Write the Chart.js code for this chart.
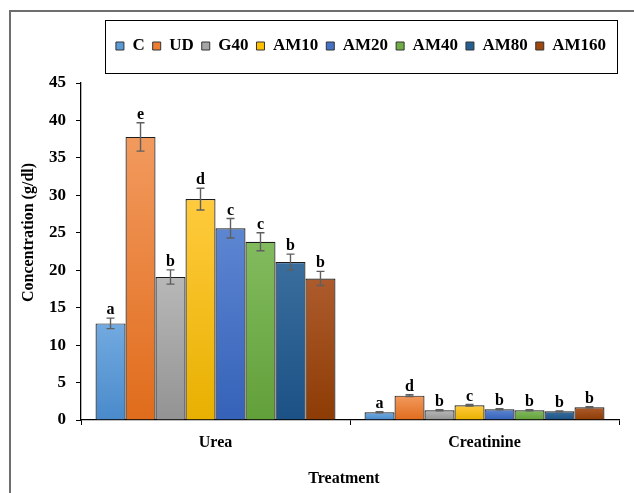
<!DOCTYPE html>
<html>
<head>
<meta charset="utf-8">
<title>Urea and creatinine concentration by treatment</title>
<script src="https://cdn.jsdelivr.net/npm/chart.js@4/dist/chart.umd.min.js"></script>
<style>
  html, body { margin: 0; padding: 0; background: #fff; overflow: hidden; }
  #wrap { position: relative; width: 634px; height: 493px; overflow: hidden; }
  #frame { position: absolute; left: 9px; top: 10px; width: 700px; height: 600px;
           border-left: 2px solid #6e6e6e; border-top: 2px solid #6e6e6e; }
  canvas { position: absolute; left: 0; top: 0; }
</style>
</head>
<body>
<div id="wrap">
  <div id="frame"></div>
  <canvas id="chart" width="634" height="493"></canvas>
</div>
<script>
// Categories on the x axis and treatment groups
const categories = ['Urea', 'Creatinine'];
const groups = ['C', 'UD', 'G40', 'AM10', 'AM20', 'AM40', 'AM80', 'AM160'];

// Mean concentrations (g/dl), standard errors and significance letters
const ureaMeans   = [12.9, 37.8, 19.1, 29.5, 25.6, 23.8, 21.1, 18.9];
const ureaErrors  = [0.7, 1.9, 0.95, 1.45, 1.3, 1.2, 1.05, 0.95];
const ureaLetters = ['a', 'e', 'b', 'd', 'c', 'c', 'b', 'b'];

const creatMeans   = [1.03, 3.25, 1.3, 1.96, 1.43, 1.3, 1.16, 1.7];
const creatErrors  = [0.08, 0.12, 0.06, 0.1, 0.08, 0.07, 0.06, 0.08];
const creatLetters = ['a', 'd', 'b', 'c', 'b', 'b', 'b', 'b'];

// Y axis ticks
const yTicks = [0, 5, 10, 15, 20, 25, 30, 35, 40, 45];

// Fill colours per group: [legend/base, gradient top, gradient bottom]
const palette = [
  ['#5b9bd5', '#72aae0', '#4a8acb'],
  ['#ed7d31', '#f29a5e', '#e06c1c'],
  ['#a5a5a5', '#b8b8b8', '#939393'],
  ['#ffc000', '#ffcb3d', '#e8b000'],
  ['#4472c4', '#5d86d2', '#3562b8'],
  ['#70ad47', '#82bb5e', '#62a03a'],
  ['#255e91', '#3a6e9e', '#1b5185'],
  ['#9e480e', '#ad5b2c', '#8d3c05']
];

const FONT = 'Liberation Serif';

function barFill(i) {
  return function (ctx) {
    const chart = ctx.chart;
    const yScale = chart.scales && chart.scales.y;
    if (ctx.type !== 'data' || !yScale || !chart.chartArea) return palette[i][0];
    const top = yScale.getPixelForValue(ctx.raw);
    const base = yScale.getPixelForValue(0);
    if (!isFinite(top) || !isFinite(base) || base - top < 1) return palette[i][0];
    const g = chart.ctx.createLinearGradient(0, top, 0, base);
    g.addColorStop(0, palette[i][1]);
    g.addColorStop(1, palette[i][2]);
    return g;
  };
}

const datasets = groups.map((g, i) => ({
  label: g,
  data: [ureaMeans[i], creatMeans[i]],
  backgroundColor: barFill(i),
  borderColor: '#1c1c1c',
  borderWidth: 1.2,
  borderSkipped: 'start',
  categoryPercentage: 0.892,
  barPercentage: 1.0
}));

const errorSets = [ureaErrors, creatErrors];
const letterSets = [ureaLetters, creatLetters];
const meanSets = [ureaMeans, creatMeans];

// Error bars and significance letters above each bar
const errorBarPlugin = {
  id: 'errorBars',
  afterDatasetsDraw(chart) {
    const c = chart.ctx;
    const y = chart.scales.y;
    c.save();
    for (let i = 0; i < groups.length; i++) {
      const meta = chart.getDatasetMeta(i);
      for (let k = 0; k < categories.length; k++) {
        const bar = meta.data[k];
        if (!bar) continue;
        const m = meanSets[k][i];
        const e = errorSets[k][i];
        const x = bar.x;
        const yt = y.getPixelForValue(m + e);
        const yb = y.getPixelForValue(m - e);
        c.strokeStyle = '#5f5f5f';
        c.lineWidth = 1.4;
        c.beginPath();
        c.moveTo(x, yt); c.lineTo(x, yb);
        c.moveTo(x - 4, yt); c.lineTo(x + 4, yt);
        c.moveTo(x - 4, yb); c.lineTo(x + 4, yb);
        c.stroke();
        c.fillStyle = '#000';
        c.font = 'bold 16px "' + FONT + '"';
        c.textAlign = 'center';
        c.textBaseline = 'alphabetic';
        c.fillText(letterSets[k][i], x, yt - 4);
      }
    }
    c.restore();
  }
};

// Legend frame, legend placement and axis titles
const framePlugin = {
  id: 'frameAndTitles',
  afterLayout(chart) {
    const lg = chart.legend;
    if (!lg) return;
    const h = lg.height;
    lg.left = 105; lg.right = 617; lg.width = 512;
    lg.top = 29.5; lg.bottom = lg.top + h;
  },
  afterDraw(chart) {
    const c = chart.ctx;
    const a = chart.chartArea;
    c.save();
    c.strokeStyle = '#000';
    c.lineWidth = 1;
    c.strokeRect(105.5, 20.5, 512, 53);
    c.fillStyle = '#000';
    c.font = 'bold 16px "' + FONT + '"';
    c.textAlign = 'center';
    c.textBaseline = 'middle';
    c.fillText('Treatment', (a.left + a.right) / 2 - 6, 479);
    c.translate(29, (a.top + a.bottom) / 2 - 19);
    c.rotate(-Math.PI / 2);
    c.fillText('Concentration (g/dl)', 0, 0);
    c.restore();
  }
};

new Chart(document.getElementById('chart'), {
  type: 'bar',
  data: { labels: categories, datasets },
  plugins: [errorBarPlugin, framePlugin],
  options: {
    responsive: false,
    devicePixelRatio: 1,
    animation: false,
    layout: { padding: { left: 0, right: 15, top: 48, bottom: 0 } },
    font: { family: FONT },
    plugins: {
      tooltip: { enabled: false },
      legend: {
        position: 'top',
        align: 'center',
        labels: {
          boxWidth: 8,
          boxHeight: 8,
          padding: 8,
          color: '#000',
          font: { family: FONT, size: 17, weight: 'bold' },
          generateLabels(chart) {
            return chart.data.datasets.map((d, i) => ({
              text: d.label,
              fillStyle: palette[i][0],
              strokeStyle: '#333',
              lineWidth: 1,
              hidden: false,
              datasetIndex: i
            }));
          }
        }
      }
    },
    scales: {
      x: {
        offset: true,
        grid: { offset: true, drawOnChartArea: false, drawTicks: true, tickLength: 5, color: '#000' },
        border: { display: true, color: '#000', width: 1.3 },
        ticks: { color: '#000', padding: 8, font: { family: FONT, size: 16, weight: 'bold' } },
        afterFit(scale) { scale.height = 73; }
      },
      y: {
        min: 0,
        max: 45,
        afterBuildTicks(scale) { scale.ticks = yTicks.map(v => ({ value: v })); },
        grid: { drawOnChartArea: false, drawTicks: true, tickLength: 5, color: '#000' },
        border: { display: true, color: '#000', width: 1.3 },
        ticks: { color: '#000', padding: 10, font: { family: FONT, size: 17, weight: 'bold' } },
        afterFit(scale) { scale.width = 81; }
      }
    }
  }
});
</script>
</body>
</html>
